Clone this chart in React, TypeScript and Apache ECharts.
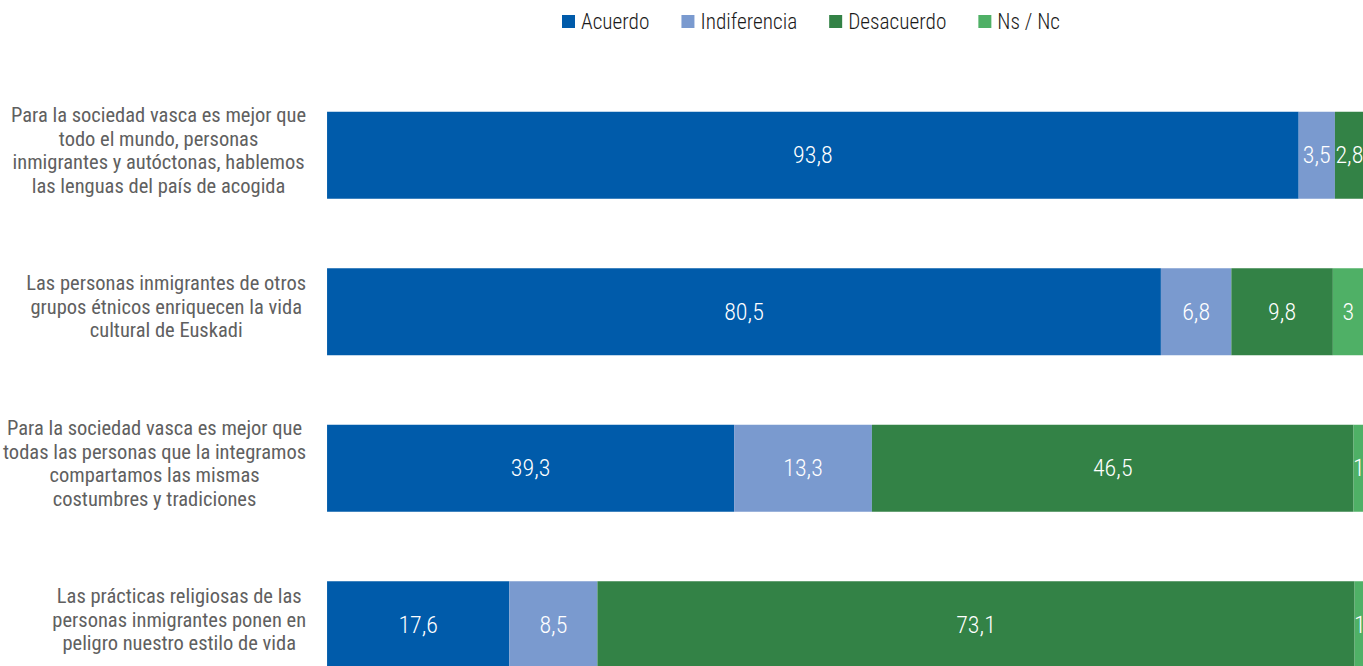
import React, { useEffect, useRef } from "react";
import * as echarts from "echarts";

const categories = [
  "Para la sociedad vasca es mejor que\ntodo el mundo, personas\ninmigrantes y autóctonas, hablemos\nlas lenguas del país de acogida",
  "Las personas inmigrantes de otros\ngrupos étnicos enriquecen la vida\ncultural de Euskadi",
  "Para la sociedad vasca es mejor que\ntodas las personas que la integramos\ncompartamos las mismas\ncostumbres y tradiciones",
  "Las prácticas religiosas de las\npersonas inmigrantes ponen en\npeligro nuestro estilo de vida",
];
const seriesNames = ["Acuerdo", "Indiferencia", "Desacuerdo", "Ns / Nc"];
const acuerdo = [93.8, 80.5, 39.3, 17.6];
const indiferencia = [3.5, 6.8, 13.3, 8.5];
const desacuerdo = [2.8, 9.8, 46.5, 73.1];
const nsnc = [0, 3, 1, 1];
const colors = ["#005baa", "#7a9acf", "#338246", "#4fb066"];

const FONT = "'Roboto Condensed', 'Liberation Sans Narrow', 'DejaVu Sans Condensed', sans-serif";

export default function App() {
  const ref = useRef<HTMLDivElement>(null);
  useEffect(() => {
    document.body.style.margin = "0";
    document.body.style.overflow = "hidden";
    document.documentElement.style.overflow = "hidden";
    const chart = echarts.init(ref.current!, undefined, { renderer: "svg" });
    const values = [acuerdo, indiferencia, desacuerdo, nsnc];
    chart.setOption({
      animation: false,
      textStyle: { fontFamily: FONT },
      legend: {
        data: seriesNames,
        left: 557,
        top: 6,
        itemWidth: 13,
        itemHeight: 13,
        itemGap: 32,
        icon: "rect",
        textStyle: { fontFamily: FONT, fontSize: 21.3, fontWeight: 300, color: "#1a1a1a", padding: [0, 0, 0, 1] },
      },
      grid: { left: 326, right: 0, top: 77, bottom: 17, containLabel: false },
      xAxis: {
        type: "value",
        min: 0,
        max: 100.3,
        show: false,
      },
      yAxis: {
        type: "category",
        data: categories,
        inverse: true,
        axisLine: { show: false },
        axisTick: { show: false },
        axisLabel: {
          margin: 21,
          align: "right",
          fontFamily: FONT,
          fontSize: 20.5,
          color: "#606060",
          lineHeight: 23.5,
          padding: [0, 0, 10, 0],
          formatter: (v: string) =>
            v.split("\n").map((l) => "{c|" + l + "}").join("\n"),
          rich: {
            c: { align: "center", fontFamily: FONT, fontSize: 20.5, color: "#606060", lineHeight: 23.5 },
          },
        },
      },
      series: seriesNames.map((name, i) => ({
        name,
        type: "bar",
        stack: "total",
        barWidth: 87,
        itemStyle: { color: colors[i] },
        label: {
          show: true,
          position: "inside",
          color: "#fff",
          fontFamily: FONT,
          fontSize: 24,
          fontWeight: 300,
          formatter: (p: any) => (p.value ? String(p.value).replace(".", ",") : ""),
        },
        data: values[i],
      })),
    });
    return () => chart.dispose();
  }, []);
  return (
    <div style={{ width: 1363, height: 666, overflow: "hidden" }}>
      <div ref={ref} style={{ width: 1366, height: 720 }} />
    </div>
  );
}
